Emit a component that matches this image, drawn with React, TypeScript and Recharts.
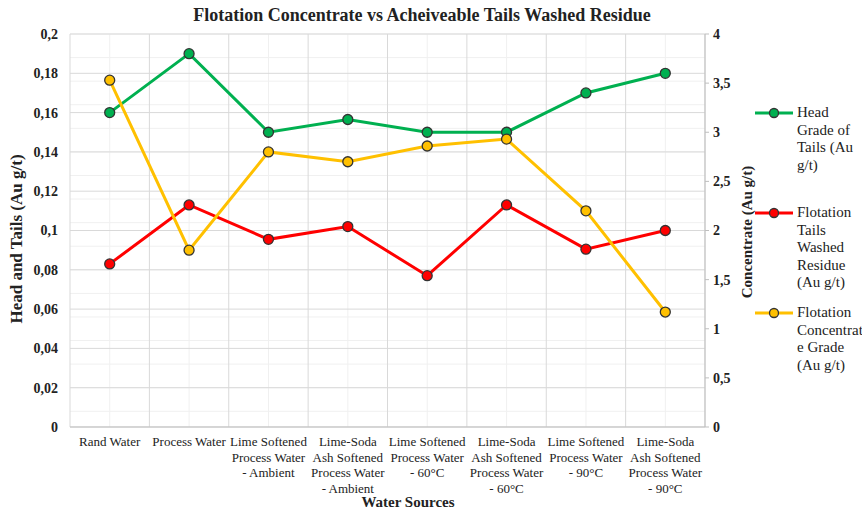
import React from "react";
import {
  LineChart,
  Line,
  XAxis,
  YAxis,
  CartesianGrid,
} from "recharts";

/* ---------- data ---------- */
const categories = [
  "Rand Water",
  "Process Water",
  "Lime Softened\nProcess Water\n- Ambient",
  "Lime-Soda\nAsh Softened\nProcess Water\n- Ambient",
  "Lime Softened\nProcess Water\n- 60°C",
  "Lime-Soda\nAsh Softened\nProcess Water\n- 60°C",
  "Lime Softened\nProcess Water\n- 90°C",
  "Lime-Soda\nAsh Softened\nProcess Water\n- 90°C",
];
const headGrade = [0.16, 0.19, 0.15, 0.1565, 0.15, 0.15, 0.17, 0.18];
const tailsResidue = [0.083, 0.113, 0.0955, 0.102, 0.077, 0.113, 0.0905, 0.1];
const concentrate = [3.53, 1.8, 2.8, 2.7, 2.86, 2.93, 2.2, 1.17];

const leftTicks = [0, 0.02, 0.04, 0.06, 0.08, 0.1, 0.12, 0.14, 0.16, 0.18, 0.2];
const rightTicks = [0, 0.5, 1, 1.5, 2, 2.5, 3, 3.5, 4];
const leftMinor = Array.from({ length: 51 }, (_, i) => +(i * 0.004).toFixed(3));

const legendItems = [
  { color: "#00b050", lines: ["Head", "Grade of", "Tails (Au", "g/t)"], top: 104 },
  { color: "#ff0000", lines: ["Flotation", "Tails", "Washed", "Residue", "(Au g/t)"], top: 204 },
  { color: "#ffc000", lines: ["Flotation", "Concentrat", "e Grade", "(Au g/t)"], top: 304 },
];

const data = categories.map((name, i) => ({
  name,
  head: headGrade[i],
  tails: tailsResidue[i],
  conc: concentrate[i],
}));

const FONT = "'Liberation Serif', 'Times New Roman', serif";
const fmt = (v: number) => String(v).replace(".", ",");

/* ---------- custom x tick ---------- */
const CategoryTick = (props: any) => {
  const { x, y, payload } = props;
  const lines = String(payload.value).split("\n");
  return (
    <text x={x} y={y} textAnchor="middle" fontFamily={FONT} fontSize={13} fill="#222">
      {lines.map((l, i) => (
        <tspan key={i} x={x} dy={i === 0 ? 11 : 15.5}>
          {l}
        </tspan>
      ))}
    </text>
  );
};

export default function App() {
  const dot = (c: string) => ({ r: 5, fill: c, stroke: "#333", strokeWidth: 1.3 });
  return (
    <div style={{ position: "absolute", left: 0, top: 0, width: 862, height: 511, background: "#fff", fontFamily: FONT }}>
      <LineChart
        width={862}
        height={511}
        data={data}
        margin={{ top: 34, right: 107, bottom: 0, left: 20 }}
      >
        {/* minor grid */}
        <CartesianGrid
          yAxisId="left"
          stroke="#f0f0f0"
          horizontalValues={leftMinor}
          verticalCoordinatesGenerator={({ offset }: any) =>
            Array.from({ length: 8 }, (_, i) => offset.left + ((i + 0.5) * offset.width) / 8)
          }
        />
        {/* major grid */}
        <CartesianGrid
          yAxisId="left"
          stroke="#d9d9d9"
          horizontalValues={leftTicks}
          verticalCoordinatesGenerator={({ offset }: any) =>
            Array.from({ length: 9 }, (_, i) => offset.left + (i * offset.width) / 8)
          }
        />
        <XAxis
          dataKey="name"
          interval={0}
          padding={{ left: 39.7, right: 39.7 }}
          tick={<CategoryTick />}
          tickLine={false}
          axisLine={{ stroke: "#bfbfbf" }}
          height={84}
        />
        <YAxis
          yAxisId="left"
          domain={[0, 0.2]}
          ticks={leftTicks}
          tickFormatter={fmt}
          axisLine={false}
          tickLine={false}
          tickMargin={6}
          width={50}
          tick={{ fontFamily: FONT, fontSize: 14, fontWeight: "bold", fill: "#222" }}
        />
        <YAxis
          yAxisId="right"
          orientation="right"
          domain={[0, 4]}
          ticks={rightTicks}
          tickFormatter={fmt}
          axisLine={{ stroke: "#bfbfbf" }}
          tickLine={{ stroke: "#bfbfbf" }}
          tickSize={4}
          tickMargin={4}
          width={50}
          tick={{ fontFamily: FONT, fontSize: 14, fontWeight: "bold", fill: "#222" }}
        />
        <Line
          yAxisId="left"
          dataKey="head"
          stroke="#00b050"
          strokeWidth={3}
          dot={dot("#00b050")}
          isAnimationActive={false}
        />
        <Line
          yAxisId="left"
          dataKey="tails"
          stroke="#ff0000"
          strokeWidth={3}
          dot={dot("#ff0000")}
          isAnimationActive={false}
        />
        <Line
          yAxisId="right"
          dataKey="conc"
          stroke="#ffc000"
          strokeWidth={3}
          dot={dot("#ffc000")}
          isAnimationActive={false}
        />
      </LineChart>

      {/* title */}
      <div
        style={{
          position: "absolute",
          top: 5,
          left: 122,
          width: 600,
          textAlign: "center",
          whiteSpace: "nowrap",
          fontWeight: "bold",
          fontSize: 18,
          color: "#222",
        }}
      >
        Flotation Concentrate vs Acheiveable Tails Washed Residue
      </div>

      {/* x axis title */}
      <div
        style={{
          position: "absolute",
          top: 494,
          left: 308,
          width: 200,
          textAlign: "center",
          fontWeight: "bold",
          fontSize: 15,
          color: "#222",
        }}
      >
        Water Sources
      </div>

      {/* left axis title */}
      <div
        style={{
          position: "absolute",
          left: 17,
          top: 239,
          transform: "translate(-50%, -50%) rotate(-90deg)",
          whiteSpace: "nowrap",
          fontWeight: "bold",
          fontSize: 17,
          color: "#222",
        }}
      >
        Head and Tails (Au g/t)
      </div>

      {/* right axis title */}
      <div
        style={{
          position: "absolute",
          left: 747,
          top: 232,
          transform: "translate(-50%, -50%) rotate(-90deg)",
          whiteSpace: "nowrap",
          fontWeight: "bold",
          fontSize: 15,
          color: "#222",
        }}
      >
        Concentrate (Au g/t)
      </div>

      {/* legend */}
      {legendItems.map((it) => (
        <div key={it.color} style={{ position: "absolute", left: 755, top: it.top, display: "flex" }}>
          <svg width={40} height={18} style={{ flexShrink: 0 }}>
            <line x1={0} y1={9} x2={38} y2={9} stroke={it.color} strokeWidth={3} />
            <circle cx={19} cy={9} r={4.5} fill={it.color} stroke="#333" strokeWidth={1.3} />
          </svg>
          <div style={{ fontSize: 15, lineHeight: "17.5px", color: "#222", marginLeft: 2 }}>
            {it.lines.map((l, i) => (
              <div key={i} style={{ whiteSpace: "nowrap" }}>
                {l}
              </div>
            ))}
          </div>
        </div>
      ))}
    </div>
  );
}
